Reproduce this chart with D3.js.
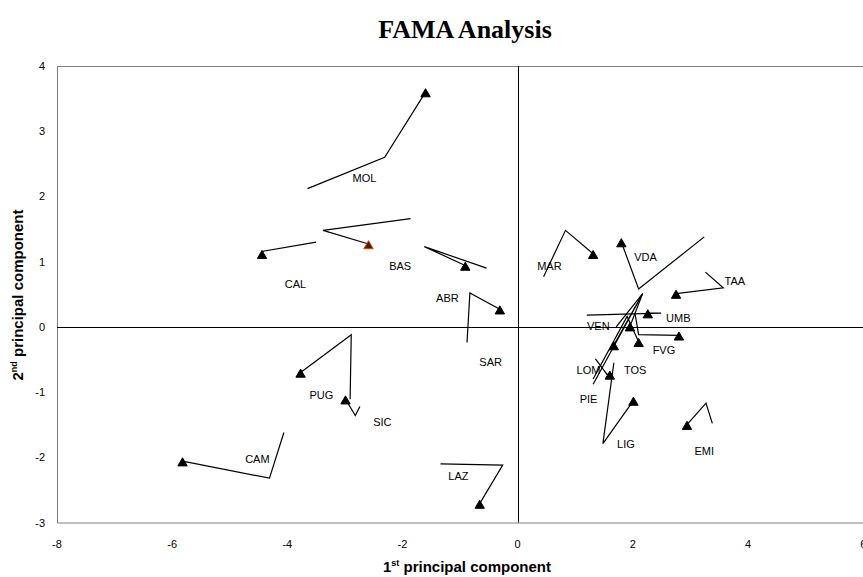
<!DOCTYPE html>
<html>
<head>
<meta charset="utf-8">
<script src="https://cdn.jsdelivr.net/npm/d3@7"></script>
<style>
  html, body { margin: 0; padding: 0; background: #fff; }
  #widget-container { width: 863px; height: 577px; overflow: hidden; }
  text { font-family: Arial, "Liberation Sans", sans-serif; }
</style>
</head>
<body>
<div id="widget-container"></div>
<script>
// region codes
const regions = ['MOL', 'BAS', 'CAL', 'ABR', 'SAR', 'LAZ', 'PUG', 'SIC', 'CAM',
  'MAR', 'VDA', 'TAA', 'UMB', 'VEN', 'FVG', 'LOM', 'TOS', 'LIG', 'EMI', 'PIE'];

// trajectories (1st PC, 2nd PC); last point carries the triangle
const paths = [
  [[-3.65, 2.12], [-2.31, 2.60], [-1.60, 3.60]],
  [[-1.86, 1.66], [-3.38, 1.48], [-2.59, 1.27]],
  [[-3.50, 1.30], [-4.42, 1.16], [-4.44, 1.12]],
  [[-0.54, 0.90], [-1.62, 1.23], [-0.91, 0.94]],
  [[-0.88, -0.24], [-0.83, 0.52], [-0.31, 0.27]],
  [[-1.34, -2.10], [-0.26, -2.12], [-0.66, -2.71]],
  [[-2.91, -1.11], [-2.89, -0.12], [-3.77, -0.70]],
  [[-2.74, -1.22], [-2.82, -1.36], [-2.99, -1.11]],
  [[-4.06, -1.62], [-4.31, -2.32], [-5.82, -2.06]],
  [[0.45, 0.77], [0.83, 1.48], [1.31, 1.12]],
  [[3.24, 1.38], [2.10, 0.58], [1.80, 1.30]],
  [[3.26, 0.84], [3.57, 0.60], [2.75, 0.51]],
  [[1.20, 0.18], [2.49, 0.21], [2.26, 0.21]],
  [[1.71, 0.00], [2.17, 0.51], [1.95, 0.01]],
  [[2.04, 0.19], [2.10, -0.12], [2.80, -0.13]],
  [[1.31, -0.88], [2.17, 0.51], [1.67, -0.28]],
  [[1.35, -0.49], [1.55, -0.73], [1.60, -0.73]],
  [[1.67, -0.55], [1.48, -1.79], [2.01, -1.13]],
  [[3.38, -1.48], [3.27, -1.17], [2.94, -1.50]],
  [[1.31, -0.80], [1.90, 0.16], [2.10, -0.23]]
];

// label anchors (centre of text), same order as regions
const labelX = [-2.66, -2.04, -3.86, -1.22, -0.47, -1.03, -3.41, -2.35, -4.52,
  0.55, 2.22, 3.77, 2.79, 1.40, 2.54, 1.23, 2.04, 1.88, 3.24, 1.23];
const labelY = [2.28, 0.93, 0.65, 0.44, -0.54, -2.29, -1.05, -1.46, -2.02,
  0.93, 1.07, 0.71, 0.13, 0.01, -0.35, -0.66, -0.66, -1.80, -1.90, -1.11];

const xTicks = [-8, -6, -4, -2, 0, 2, 4, 6];
const yTicks = [-3, -2, -1, 0, 1, 2, 3, 4];
const highlighted = 'BAS';

(function() {
  const W = 863, H = 577;
  const plot = { left: 57, right: 863.2, top: 66, bottom: 522.5 };

  const svg = d3.select('#widget-container').append('svg')
    .attr('width', W).attr('height', H);

  const x = d3.scaleLinear().domain([-8, 6]).range([plot.left, plot.right]);
  const y = d3.scaleLinear().domain([-3, 4]).range([plot.bottom, plot.top]);

  // Title
  svg.append('text')
    .attr('x', 465).attr('y', 38)
    .attr('text-anchor', 'middle')
    .style('font-family', '"Liberation Serif", "Times New Roman", serif')
    .attr('font-size', '26px').attr('font-weight', 'bold')
    .text('FAMA Analysis');

  // Plot frame
  svg.append('rect')
    .attr('x', plot.left + 0.5).attr('y', plot.top + 0.5)
    .attr('width', plot.right - plot.left).attr('height', plot.bottom - plot.top)
    .attr('fill', 'none').attr('stroke', '#808080').attr('stroke-width', 1);

  // Zero axes
  svg.append('line')
    .attr('x1', plot.left).attr('x2', plot.right)
    .attr('y1', Math.round(y(0)) + 0.5).attr('y2', Math.round(y(0)) + 0.5)
    .attr('stroke', '#000').attr('stroke-width', 1);
  svg.append('line')
    .attr('x1', Math.round(x(0)) + 0.5).attr('x2', Math.round(x(0)) + 0.5)
    .attr('y1', plot.top).attr('y2', plot.bottom)
    .attr('stroke', '#000').attr('stroke-width', 1);

  // Tick labels
  svg.append('g').selectAll('text').data(xTicks).join('text')
    .attr('x', d => x(d)).attr('y', 548)
    .attr('text-anchor', 'middle')
    .attr('font-size', '11px').attr('fill', '#000')
    .text(d => d);

  svg.append('g').selectAll('text').data(yTicks).join('text')
    .attr('x', 45).attr('y', d => y(d) + 4)
    .attr('text-anchor', 'end')
    .attr('font-size', '11px').attr('fill', '#000')
    .text(d => d);

  // Axis titles
  const xt = svg.append('text')
    .attr('x', 467).attr('y', 572)
    .attr('text-anchor', 'middle')
    .attr('font-size', '15px').attr('font-weight', 'bold');
  xt.append('tspan').text('1');
  xt.append('tspan').attr('font-size', '9px').attr('dy', -6).text('st');
  xt.append('tspan').attr('dy', 6).text(' principal component');

  const yt = svg.append('text')
    .attr('transform', 'translate(23,295) rotate(-90)')
    .attr('text-anchor', 'middle')
    .attr('font-size', '15px').attr('font-weight', 'bold');
  yt.append('tspan').text('2');
  yt.append('tspan').attr('font-size', '9px').attr('dy', -6).text('nd');
  yt.append('tspan').attr('dy', 6).text(' principal component');

  // Trajectories
  const line = d3.line().x(d => x(d[0])).y(d => y(d[1]));
  svg.append('g').selectAll('path').data(paths).join('path')
    .attr('d', line)
    .attr('fill', 'none').attr('stroke', '#000').attr('stroke-width', 1.2);

  // Triangles at last point
  const tri = d3.symbol().type(d3.symbolTriangle).size(38);
  svg.append('g').selectAll('path').data(paths.map((p, i) => ({ p: p[p.length - 1], name: regions[i] }))).join('path')
    .attr('d', tri)
    .attr('transform', d => `translate(${x(d.p[0])},${y(d.p[1]) + 2})`)
    .attr('fill', d => d.name === highlighted ? '#5c1800' : '#000')
    .attr('stroke', d => d.name === highlighted ? '#c0501a' : '#000')
    .attr('stroke-width', 1);

  // Region labels
  svg.append('g').selectAll('text').data(regions).join('text')
    .attr('x', (d, i) => x(labelX[i])).attr('y', (d, i) => y(labelY[i]) + 4)
    .attr('text-anchor', 'middle')
    .attr('font-size', '11px').attr('fill', '#000')
    .text(d => d);
})();
</script>
</body>
</html>
